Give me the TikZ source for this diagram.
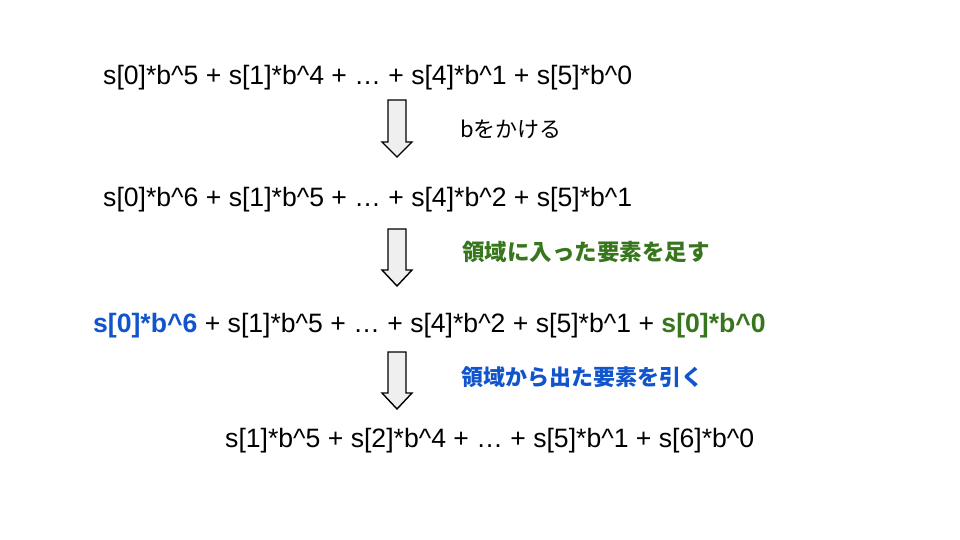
\documentclass[tikz,border=0pt]{standalone}
\usepackage{fontspec}
\setmainfont{Liberation Sans}
\newfontfamily\jpfont{Noto Sans CJK JP}
\definecolor{gblue}{HTML}{1155CC}
\definecolor{ggreen}{HTML}{38761D}
\definecolor{arrowfill}{HTML}{EFEFEF}
\begin{document}
\begin{tikzpicture}[x=1pt,y=-1pt,
  expr/.style={anchor=base west,inner sep=0pt,font=\fontsize{26.6}{30}\selectfont},
  lbl/.style={anchor=base west,inner sep=0pt,font=\jpfont\fontsize{22}{26}\selectfont},
  blockarrow/.style={draw=black,fill=arrowfill,line width=1.4pt,line join=miter}]
\useasboundingbox (0,0) rectangle (960,540);
\fill[white] (0,0) rectangle (960,540);
\node[expr] (l1) at (103,84.5) {s[0]*b\string^5 + s[1]*b\string^4 + … + s[4]*b\string^1 + s[5]*b\string^0};
\node[expr] (l2) at (103,206.5) {s[0]*b\string^6 + s[1]*b\string^5 + … + s[4]*b\string^2 + s[5]*b\string^1};
\node[expr] (l3) at (93,332.5) {\textcolor{gblue}{\bfseries s[0]*b\string^6} + s[1]*b\string^5 + … + s[4]*b\string^2 + s[5]*b\string^1 + \textcolor{ggreen}{\bfseries s[0]*b\string^0}};
\node[expr] (l4) at (225,447.5) {s[1]*b\string^5 + s[2]*b\string^4 + … + s[5]*b\string^1 + s[6]*b\string^0};
\node[lbl] (t1) at (460,138) {bをかける};
\node[lbl,text=ggreen,font=\jpfont\bfseries\fontsize{22.5}{26}\selectfont] (t2) at (462,260) {領域に入った要素を足す};
\node[lbl,text=gblue,font=\jpfont\bfseries\fontsize{22}{26}\selectfont] (t3) at (461,385) {領域から出た要素を引く};
\foreach \top/\base/\tip in {100/142/157, 229/270/286, 352/393/409}{
  \draw[blockarrow] (388,\top) -- (406,\top) -- (406,\base) -- (412,\base) -- (397,\tip) -- (382,\base) -- (388,\base) -- cycle;
}
\end{tikzpicture}
\end{document}
